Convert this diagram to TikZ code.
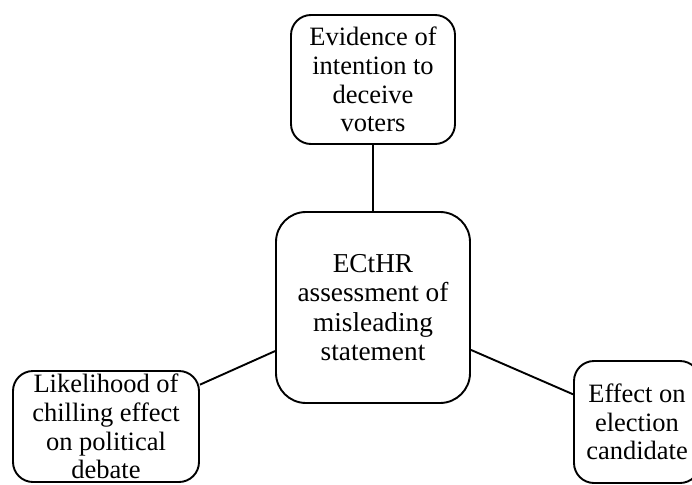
\documentclass[tikz,border=0pt]{standalone}
\usepackage{fontspec}
\setmainfont{Liberation Serif}
\begin{document}
\begin{tikzpicture}[x=1pt,y=-1pt,
  box/.style={draw=black, line width=1.9pt, rounded corners=20pt, align=center,
    inner sep=0pt, font=\fontsize{26.5}{28.6}\selectfont},
  hub/.style={box, rounded corners=30pt, font=\fontsize{27.3}{29.2}\selectfont},
  link/.style={draw=black, line width=1.9pt}]
\useasboundingbox (0,0) rectangle (692,484);
\clip (0,0) rectangle (692,484);

\node[box, minimum width=164pt, minimum height=129pt] (evid) at (373,79.5)
  {Evidence of\\intention to\\deceive\\voters};
\node[hub, minimum width=194pt, minimum height=191pt] (court) at (373,307.5)
  {ECtHR\\assessment of\\misleading\\statement};
\node[box, minimum width=186pt, minimum height=111pt] (chill) at (106,426.5)
  {Likelihood of\\chilling effect\\on political\\debate};
\node[box, minimum width=126pt, minimum height=122pt] (cand) at (637,422)
  {Effect on\\election\\candidate};

\draw[link] (evid) -- (court);
\draw[link] (chill) -- (court);
\draw[link] (court) -- (cand);
\end{tikzpicture}
\end{document}
